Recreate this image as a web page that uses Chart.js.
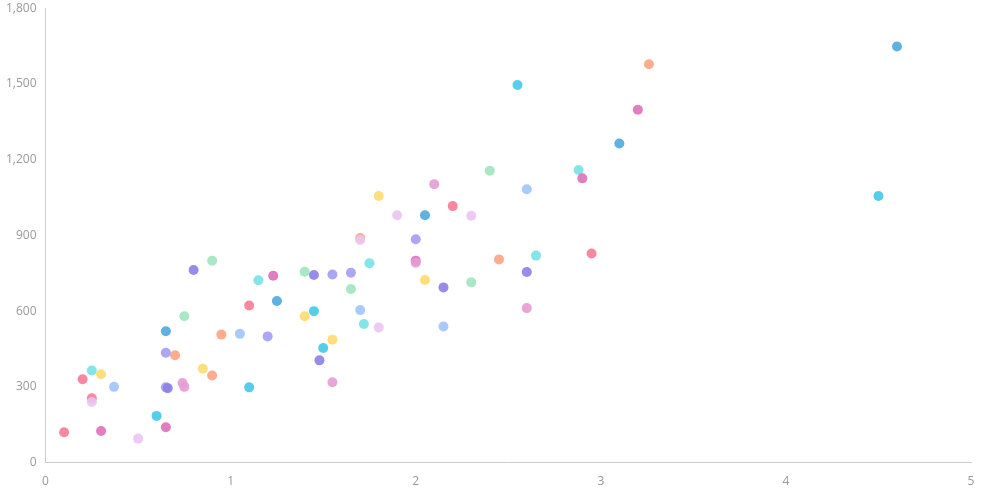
<!DOCTYPE html>
<html>
<head>
<meta charset="utf-8">
<script src="https://cdn.jsdelivr.net/npm/chart.js@4/dist/chart.umd.min.js"></script>
<style>
  html, body { margin: 0; padding: 0; background: #fff; }
  #wrap { width: 984px; height: 496px; }
</style>
</head>
<body>
<div id="wrap"><canvas id="chart"></canvas></div>
<script>
// values
const xValues = [0.1, 0.2, 0.25, 0.3, 0.25, 0.25, 0.37, 0.3, 0.5, 0.6,
  0.65, 0.65, 0.65, 0.7, 0.65, 0.66, 0.74, 0.75, 0.8, 0.9,
  0.75, 0.85, 0.9, 0.95, 1.05, 1.1, 1.1, 1.15, 1.2, 1.23,
  1.25, 1.4, 1.45, 1.4, 1.45, 1.5, 1.48, 1.55, 1.55, 1.55,
  1.65, 1.65, 1.75, 1.7, 1.72, 1.8, 2.0, 2.0, 2.05, 2.15,
  2.15, 2.3, 2.45, 2.6, 2.65, 2.6, 2.95, 1.8, 1.9, 2.05,
  2.1, 2.2, 2.3, 2.4, 2.55, 2.6, 2.88, 2.9, 3.1, 3.2,
  3.26, 1.7, 1.7, 2.0, 4.6, 4.5];
const yValues = [120, 330, 365, 350, 255, 240, 300, 125, 95, 185,
  140, 520, 435, 425, 298, 295, 315, 300, 763, 800,
  580, 372, 345, 507, 510, 298, 622, 722, 500, 740,
  640, 756, 743, 580, 600, 454, 405, 745, 487, 318,
  752, 688, 790, 604, 549, 535, 800, 792, 723, 694,
  539, 714, 805, 755, 820, 612, 828, 1056, 980, 980,
  1103, 1016, 978, 1156, 1496, 1083, 1159, 1126, 1264, 1398,
  1578, 890, 882, 885, 1648, 1056];
const pointColors = ["pink", "pink", "teal", "yellow", "pink", "lilac", "sky", "magenta", "lilac", "cyan",
  "magenta", "blue", "lavender", "salmon", "lavender", "purple", "orchid", "orchid", "purple", "green",
  "green", "yellow", "salmon", "salmon", "sky", "cyan", "pink", "teal", "lavender", "magenta",
  "blue", "green", "purple", "yellow", "cyan", "cyan", "purple", "lavender", "yellow", "orchid",
  "lavender", "green", "teal", "sky", "teal", "lilac", "magenta", "orchid", "yellow", "purple",
  "sky", "green", "salmon", "purple", "teal", "orchid", "pink", "yellow", "lilac", "blue",
  "orchid", "pink", "lilac", "green", "cyan", "sky", "teal", "magenta", "blue", "magenta",
  "salmon", "salmon", "lilac", "lavender", "blue", "cyan"];
const xTicks = [0, 1, 2, 3, 4, 5];
const yTicks = [0, 300, 600, 900, 1200, 1500, 1800];

const palette = {
  pink: "rgba(247,122,150,0.9)",
  cyan: "rgba(66,201,232,0.9)",
  yellow: "rgba(255,220,110,0.9)",
  sky: "rgba(160,196,255,0.9)",
  salmon: "rgba(255,164,130,0.9)",
  lavender: "rgba(164,156,244,0.9)",
  purple: "rgba(140,128,232,0.9)",
  green: "rgba(160,230,190,0.9)",
  teal: "rgba(118,226,228,0.9)",
  magenta: "rgba(222,112,184,0.9)",
  orchid: "rgba(230,156,212,0.9)",
  lilac: "rgba(234,196,242,0.9)",
  blue: "rgba(76,168,222,0.9)"
};

const points = xValues.map(function (x, i) {
  return { x: x, y: yValues[i] };
});

Chart.defaults.font.family = "'Open Sans', sans-serif";
Chart.defaults.font.size = 12;
Chart.defaults.color = "#999";

const ctx = document.getElementById("chart").getContext("2d");
new Chart(ctx, {
  type: "scatter",
  data: {
    datasets: [{
      data: points,
      pointRadius: 5,
      pointHoverRadius: 6,
      pointBorderWidth: 0,
      pointBackgroundColor: pointColors.map(c => palette[c])
    }]
  },
  options: {
    responsive: true,
    maintainAspectRatio: false,
    animation: false,
    layout: { padding: { top: 2, right: 13, left: 5, bottom: 3 } },
    plugins: {
      legend: { display: false },
      tooltip: { enabled: true }
    },
    scales: {
      x: {
        min: 0,
        max: 5,
        grid: { display: false },
        border: { display: true, color: "#ccc" },
        afterBuildTicks: function (axis) {
          axis.ticks = xTicks.map(v => ({ value: v }));
        },
        ticks: { padding: 4 }
      },
      y: {
        min: 0,
        max: 1800,
        grid: { display: false },
        border: { display: true, color: "#ccc" },
        afterBuildTicks: function (axis) {
          axis.ticks = yTicks.map(v => ({ value: v }));
        },
        ticks: {
          padding: 1,
          callback: v => v.toLocaleString("en-US")
        }
      }
    }
  }
});
</script>
</body>
</html>
